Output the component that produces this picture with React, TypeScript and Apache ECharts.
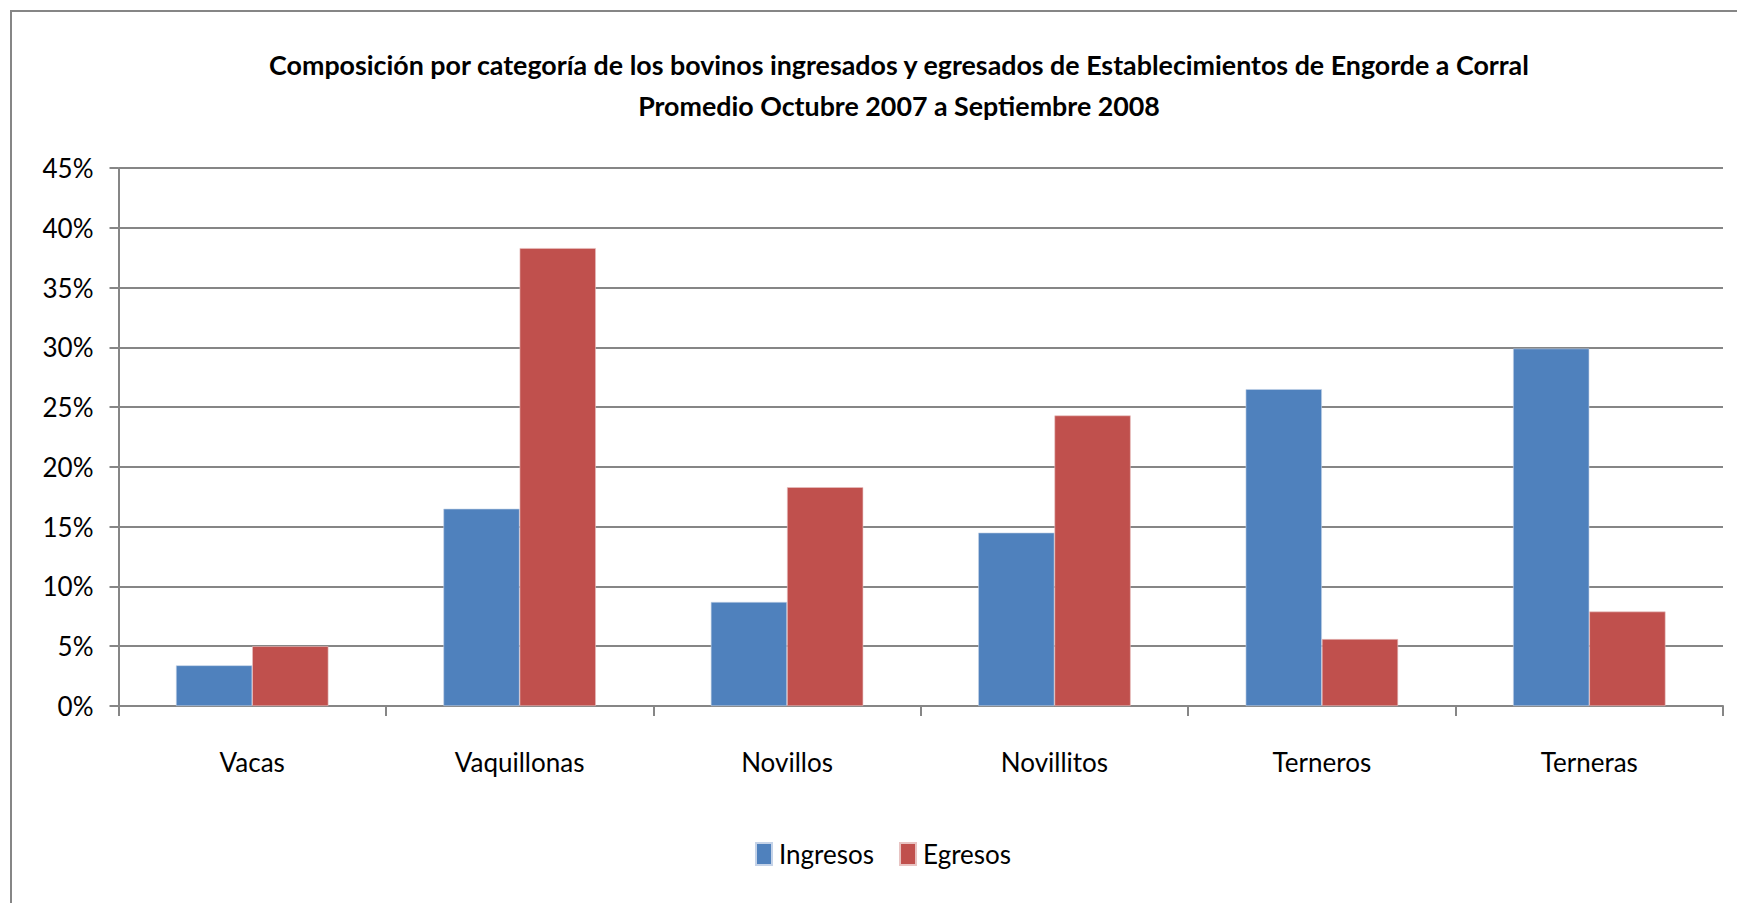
import React, { useEffect, useRef } from "react";
import * as echarts from "echarts";

const categories = ["Vacas", "Vaquillonas", "Novillos", "Novillitos", "Terneros", "Terneras"];
const ingresos = [3.4, 16.5, 8.7, 14.5, 26.5, 29.9];
const egresos = [5.0, 38.3, 18.3, 24.3, 5.6, 7.9];
const seriesNames = ["Ingresos", "Egresos"];
const titleLines = [
  "Composición por categoría de los bovinos ingresados y egresados de Establecimientos de Engorde a Corral",
  "Promedio Octubre 2007 a Septiembre 2008",
];
const yMin = 0;
const yMax = 45;
const yInterval = 5;

const FONT = "Lato, 'Open Sans', sans-serif";
const GRAY = "#868686";

export default function App() {
  const ref = useRef<HTMLDivElement>(null);
  useEffect(() => {
    document.body.style.margin = "0";
    if (!ref.current) return;
    const chart = echarts.init(ref.current, undefined, { renderer: "svg" });
    chart.setOption({
      animation: false,
      backgroundColor: "#ffffff",
      textStyle: { fontFamily: FONT },
      graphic: [
        {
          type: "rect",
          shape: { x: 11, y: 11, width: 2000, height: 2000 },
          style: { fill: "none", stroke: GRAY, lineWidth: 2 },
          silent: true,
        },
      ],
      title: {
        text: titleLines.join("\n"),
        left: 894,
        textAlign: "center",
        top: 39,
        textStyle: {
          fontFamily: FONT,
          fontSize: 26.8,
          fontWeight: "bold",
          color: "#000",
          lineHeight: 41,
        },
      },
      legend: {
        data: seriesNames,
        left: 750,
        top: 836,
        itemWidth: 16,
        itemHeight: 22,
        itemGap: 25,
        icon: "rect",
        textStyle: { fontFamily: FONT, fontSize: 26, color: "#000", padding: [0, 0, 0, 2] },
      },
      grid: { left: 118.5, right: 14, top: 168, bottom: 197, containLabel: false },
      xAxis: {
        type: "category",
        data: categories,
        axisLine: { show: true, lineStyle: { color: GRAY, width: 2 } },
        axisTick: { show: true, alignWithLabel: false, length: 10, lineStyle: { color: GRAY, width: 2 } },
        axisLabel: { fontFamily: FONT, fontSize: 26, color: "#000", margin: 43 },
      },
      yAxis: {
        type: "value",
        min: yMin,
        max: yMax,
        interval: yInterval,
        axisLine: { show: true, lineStyle: { color: GRAY, width: 2 } },
        axisTick: { show: true, length: 9, lineStyle: { color: GRAY, width: 2 } },
        splitLine: { show: true, lineStyle: { color: GRAY, width: 2 } },
        axisLabel: {
          fontFamily: FONT,
          fontSize: 26,
          color: "#000",
          margin: 25,
          formatter: (v: number) => `${v}%`,
        },
      },
      series: [
        {
          name: seriesNames[0],
          type: "bar",
          data: ingresos,
          barGap: "0%",
          barCategoryGap: "43%",
          itemStyle: { color: "#4F81BD", borderColor: "#c5d3e8", borderWidth: 0.6 },
        },
        {
          name: seriesNames[1],
          type: "bar",
          data: egresos,
          barGap: "0%",
          barCategoryGap: "43%",
          itemStyle: { color: "#C0504D", borderColor: "#e8c3c2", borderWidth: 0.6 },
        },
      ],
    });
    return () => chart.dispose();
  }, []);
  return <div ref={ref} style={{ width: 1737, height: 903 }} />;
}
